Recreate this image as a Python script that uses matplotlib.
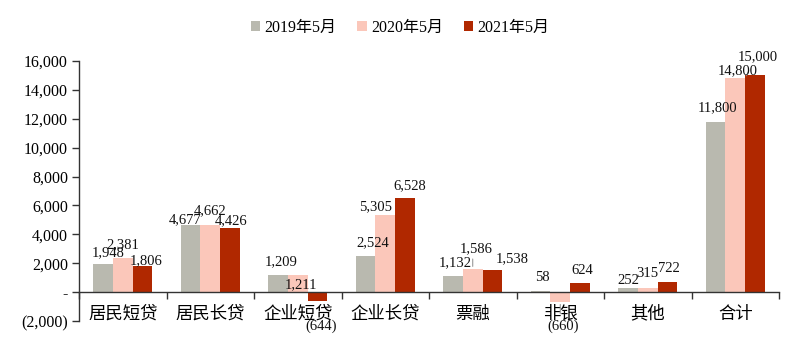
"""Loan increments by category, May 2019 / 2020 / 2021 (grouped bars)."""

import matplotlib.pyplot as plt
import numpy as np
from matplotlib.ticker import FixedLocator, FuncFormatter

plt.rcParams["font.family"] = ["Liberation Serif", "Noto Sans CJK SC"]

CATEGORIES = ["居民短贷", "居民长贷", "企业短贷", "企业长贷", "票融", "非银", "其他", "合计"]
SERIES = ["2019年5月", "2020年5月", "2021年5月"]
MAY_2019 = [1948, 4677, 1209, 2524, 1132, 58, 252, 11800]
MAY_2020 = [2381, 4662, 1211, 5305, 1586, -660, 315, 14800]
MAY_2021 = [1806, 4426, -644, 6528, 1538, 624, 722, 15000]
Y_TICKS = [-2000, 0, 2000, 4000, 6000, 8000, 10000, 12000, 14000, 16000]

COLORS = ["#B9B9AF", "#FBC7BA", "#B02800"]

# hand placed label offsets in pixels (dx, distance from bar end)
LABEL_OFFSETS = [
    [(5, 11), (-6, 5), (3, 13), (7, 13), (2, 13), (2, 14), (0, 8), (2, 14)],
    [(0, 13), (0, 14), (3, -10), (-10, 9), (3, 21), (3, 25), (0, 14), (2, 8)],
    [(4, 5), (1, 7), (4, 25), (5, 12), (20, 11), (2, 13), (2, 13), (3, 19)],
]

PX = 0.72  # points per pixel at 100 dpi
BAR_W = 0.223


def _fmt_value(v):
    if v == 0:
        return "-"
    if v < 0:
        return f"({-v:,.0f})"
    return f"{v:,.0f}"


def main():
    fig = plt.figure(figsize=(8, 3.48), dpi=100)
    ax = fig.add_axes([79 / 800, 1 - 321 / 348, 700 / 800, 260 / 348])

    centers = np.arange(len(CATEGORIES)) + 0.5
    all_series = [MAY_2019, MAY_2020, MAY_2021]
    for k, (name, values, color) in enumerate(zip(SERIES, all_series, COLORS)):
        xs = centers + (k - 1) * BAR_W
        ax.bar(xs, values, width=BAR_W, color=color, label=name, zorder=2)
        for x, v, (dx, dy) in zip(xs, values, LABEL_OFFSETS[k]):
            oy = dy if v >= 0 else -dy
            ax.annotate(_fmt_value(v), xy=(x, v), xytext=(dx * PX, oy * PX),
                        textcoords="offset points", ha="center", va="center",
                        fontsize=10.5, color="#111111", zorder=4)

    # leader lines
    pink_x = centers
    line_kw = dict(arrowstyle="-", color="#8a8a8a", lw=0.7)
    ax.annotate("", xy=(pink_x[4], MAY_2020[4]), xytext=(0, 13 * PX),
                textcoords="offset points", arrowprops=line_kw)
    ax.annotate("", xy=(pink_x[5], MAY_2020[5]), xytext=(0, -15 * PX),
                textcoords="offset points", arrowprops=line_kw)
    ax.annotate("", xy=(pink_x[7] + BAR_W / 2, MAY_2020[7]), xytext=(5 * PX, 10 * PX),
                textcoords="offset points", arrowprops=line_kw)

    ax.set_xlim(0, len(CATEGORIES))
    ax.set_ylim(-2000, 16000)

    for side in ("top", "right"):
        ax.spines[side].set_visible(False)
    ax.spines["bottom"].set_position(("data", 0))
    for side in ("left", "bottom"):
        ax.spines[side].set_color("#333333")
        ax.spines[side].set_linewidth(1.0)
        ax.spines[side].set_zorder(3)

    ax.yaxis.set_major_locator(FixedLocator(Y_TICKS))
    ax.yaxis.set_major_formatter(FuncFormatter(lambda v, pos: _fmt_value(v)))
    ax.tick_params(axis="y", direction="out", length=5, width=1.0,
                   color="#333333", labelsize=11.5, pad=3)

    ax.xaxis.set_major_locator(FixedLocator(np.arange(len(CATEGORIES) + 1)))
    ax.xaxis.set_major_formatter(FuncFormatter(lambda v, pos: ""))
    ax.xaxis.set_minor_locator(FixedLocator(centers))
    ax.set_xticklabels(CATEGORIES, minor=True, fontsize=12.5,
                       family=["Noto Sans CJK SC"])
    ax.tick_params(axis="x", which="major", direction="out", length=5, width=1.0,
                   color="#333333")
    ax.tick_params(axis="x", which="minor", length=0, pad=9)

    fig.legend(loc="center", bbox_to_anchor=(0.5, 1 - 28 / 348), ncol=3,
               frameon=False, fontsize=11.5, handlelength=0.6, handleheight=0.6,
               handletextpad=0.25, columnspacing=1.3, borderaxespad=0)

    fig.savefig("out.png", dpi=100)


if __name__ == "__main__":
    main()
